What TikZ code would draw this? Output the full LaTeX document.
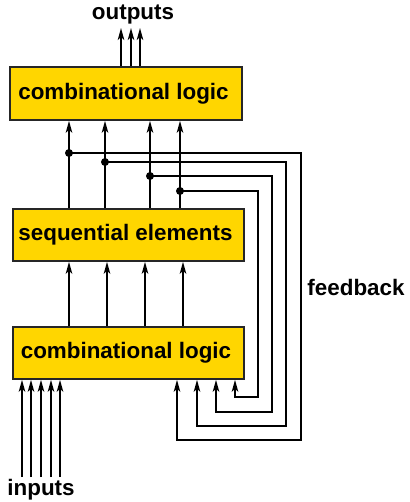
\documentclass[tikz,border=0pt]{standalone}
\usepackage{fontspec}
\setmainfont{Liberation Sans}
\usetikzlibrary{arrows.meta}
\definecolor{boxgold}{RGB}{255,214,0}
\tikzset{
  blk/.style={draw=black!85, line width=1.6pt, fill=boxgold, inner sep=0pt,
    font=\fontsize{22.4}{26}\selectfont\bfseries},
  lbl/.style={inner sep=0pt, font=\fontsize{22.4}{26}\selectfont\bfseries},
  wire/.style={line width=1.8pt, draw=black},
  arr/.style={wire, -{Stealth[length=12pt, width=6.5pt, inset=3pt]}},
  dotm/.style={fill=black}
}
\begin{document}
\begin{tikzpicture}[x=1pt, y=-1pt]
\useasboundingbox (0,0) rectangle (409,502);
% boxes
\node[blk, minimum width=232pt, minimum height=53pt] (top) at (126,93.5) {combinational logic\kern5pt};
\node[blk, minimum width=231pt, minimum height=52pt] (mid) at (128.5,235) {sequential elements\kern6pt};
\node[blk, minimum width=231pt, minimum height=52pt] (bot) at (128.5,353) {combinational logic\kern5pt};
% labels
\node[lbl] (outl) at (133,15) {outputs};
\node[lbl] (inl) at (41,490) {inputs};
\node[lbl] (fbl) at (356,287) {feedback};
% outputs
\coordinate (o1) at (121,28);
\coordinate (o2) at (131,28);
\coordinate (o3) at (140,28);
\foreach \c in {o1,o2,o3} \draw[arr] (\c |- top.north) -- (\c);
% mid -> top
\foreach \x in {69,105,150,180} \draw[arr] (\x,0 |- mid.north) -- (\x,0 |- top.south);
% bot -> mid
\foreach \x in {69,107,145,183} \draw[arr] (\x,0 |- bot.north) -- (\x,0 |- mid.south);
% inputs
\foreach \x in {22,31,41,51,60} \draw[arr] (\x,477) -- (\x,0 |- bot.south);
% feedback taps
\coordinate (d1) at (69,153);
\coordinate (d2) at (105,162);
\coordinate (d3) at (150,176);
\coordinate (d4) at (180,191);
\foreach \d in {d1,d2,d3,d4} \fill[dotm] (\d) circle (4pt);
\draw[arr] (d1) -| (301,440) -| (177,0 |- bot.south);
\draw[arr] (d2) -| (286,426) -| (197,0 |- bot.south);
\draw[arr] (d3) -| (272,412) -| (216,0 |- bot.south);
\draw[arr] (d4) -| (258,397) -| (235,0 |- bot.south);
\end{tikzpicture}
\end{document}
